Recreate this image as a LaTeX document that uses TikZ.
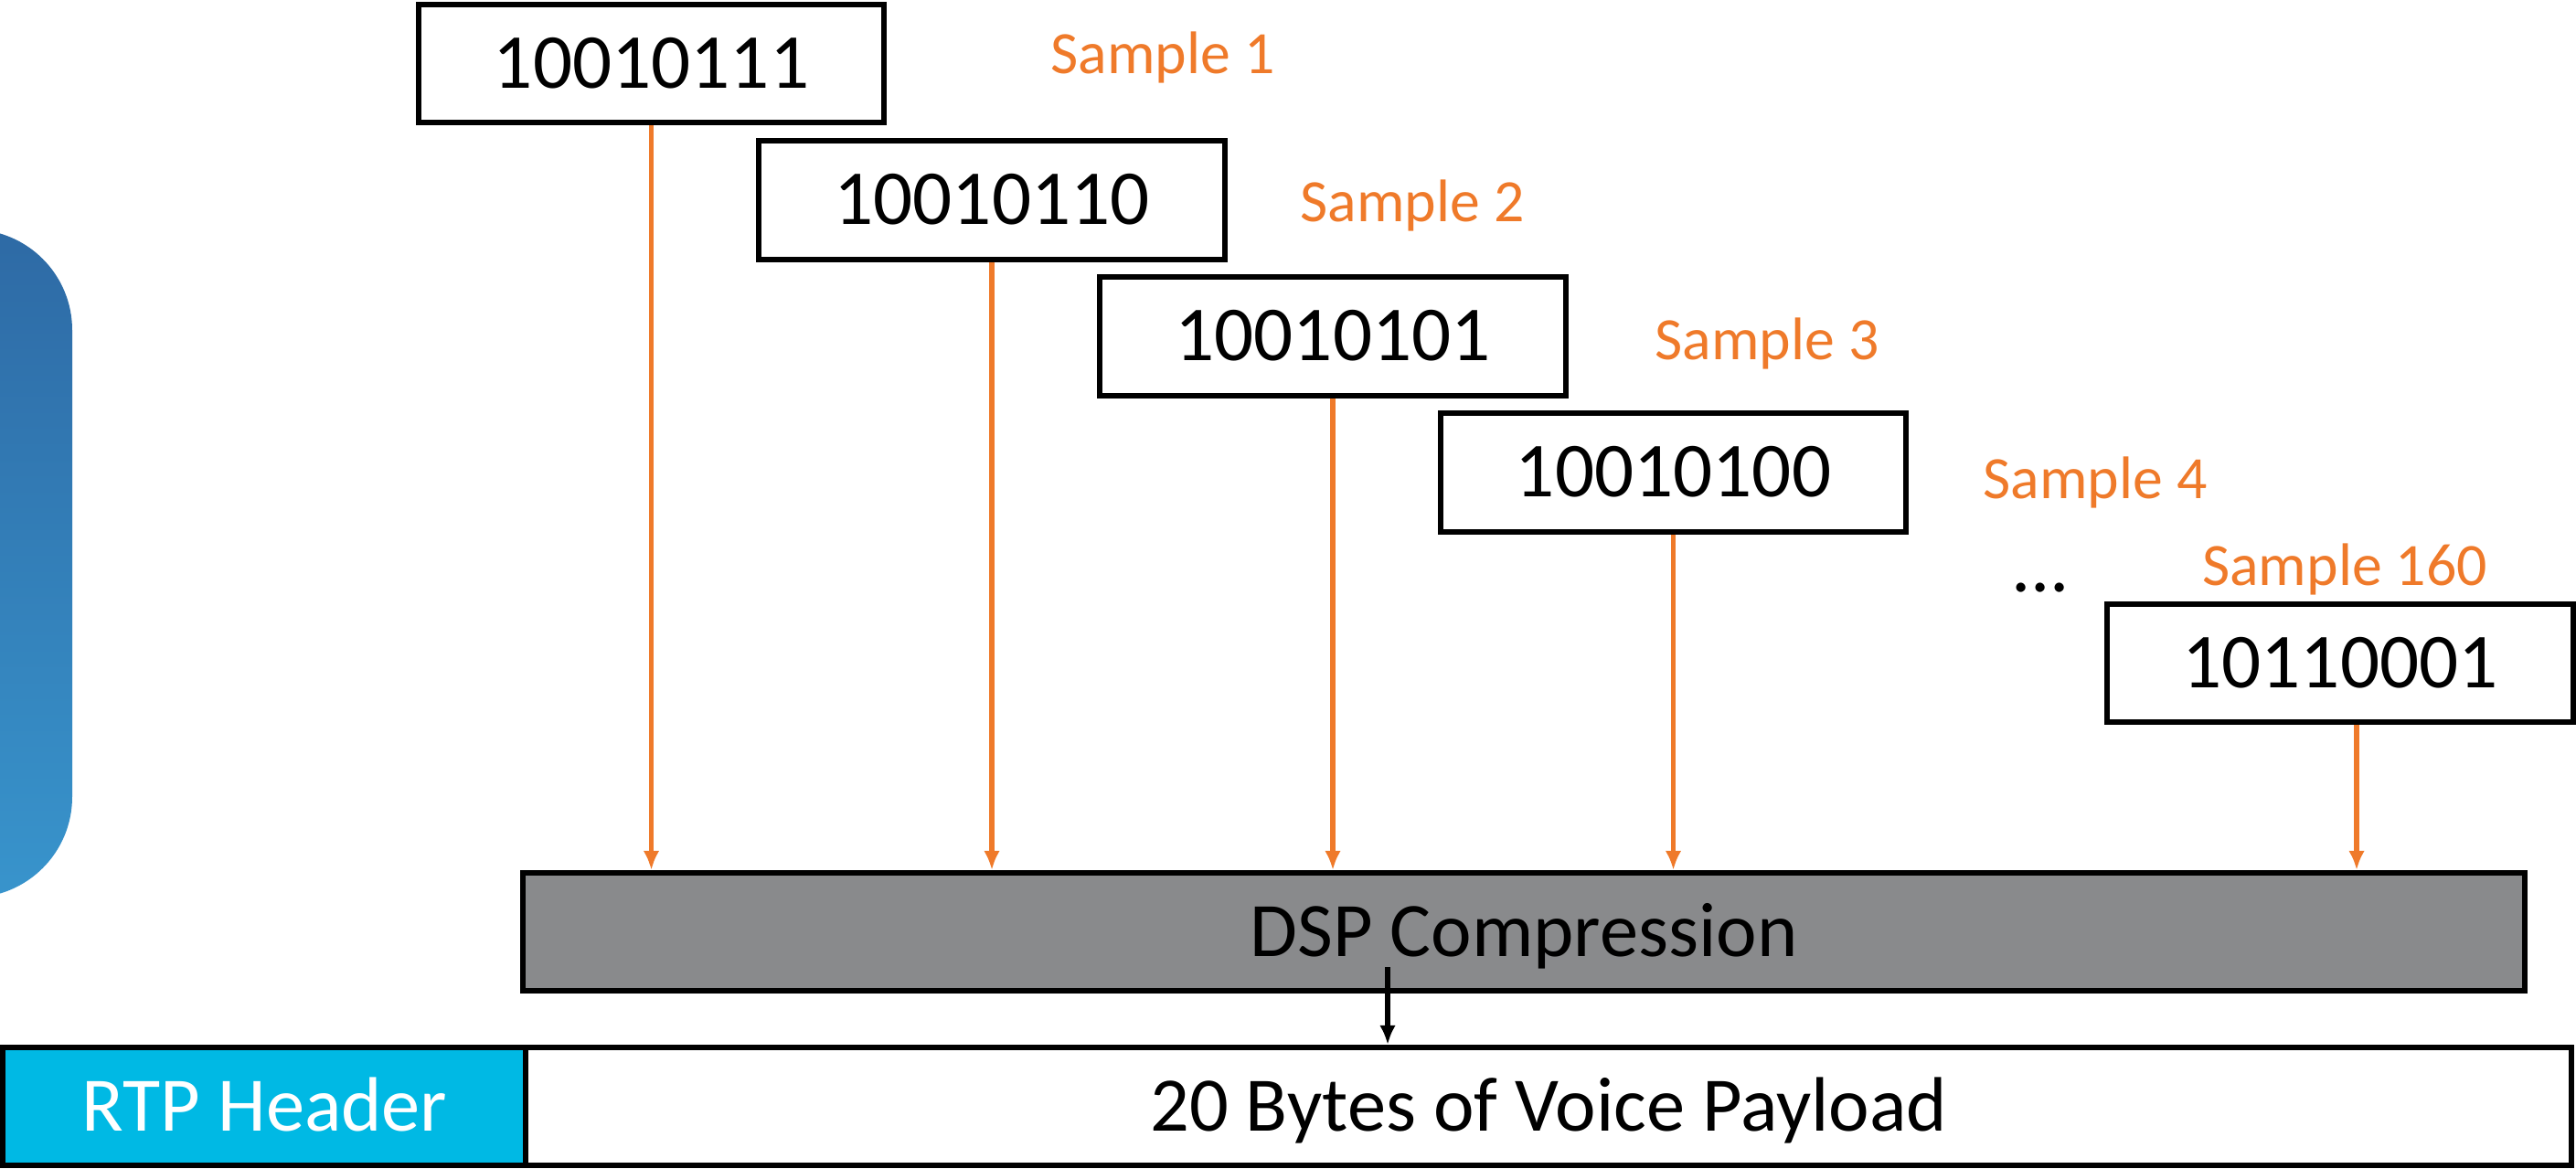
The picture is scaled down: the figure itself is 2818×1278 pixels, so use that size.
\documentclass[tikz,border=0pt]{standalone}
\usepackage{fontspec}
\setmainfont{Carlito}
\usetikzlibrary{arrows.meta}

\definecolor{sampleorange}{HTML}{EF7A2A}
\definecolor{dspgray}{HTML}{898A8C}
\definecolor{rtpcyan}{HTML}{00B9E4}
\definecolor{panetop}{RGB}{46,106,165}
\definecolor{panebottom}{RGB}{56,148,204}

\tikzset{
  bitbox/.style={draw, line width=1.7pt, fill=white, inner sep=0pt,
    minimum width=5.09cm, minimum height=1.29cm,
    font=\fontsize{24.2}{28}\selectfont, text height=15.3pt, text depth=0pt},
  samplelbl/.style={anchor=base, inner sep=0pt, text=sampleorange,
    font=\fontsize{18.7}{22}\selectfont},
  feed/.style={draw=sampleorange, line width=1.55pt,
    -{Latex[length=6pt,width=5pt]}},
  outarrow/.style={draw=black, line width=1.5pt,
    -{Latex[length=6pt,width=5pt]}},
  dspbox/.style={draw, line width=1.7pt, fill=dspgray, inner sep=0pt,
    minimum width=21.88cm, minimum height=1.29cm,
    font=\fontsize{24}{28}\selectfont, text height=15.5pt, text depth=0pt},
  field/.style={draw, line width=1.7pt, inner sep=0pt,
    minimum height=1.29cm,
    font=\fontsize{24}{28}\selectfont, text height=15.5pt, text depth=0pt}
}

\begin{document}
\begin{tikzpicture}[x=0.01cm, y=-0.01cm]
\useasboundingbox (0,0) rectangle (2818,1278);

% partly visible rounded panel at the left edge
\begin{scope}
  \clip (0,0) rectangle (2818,1278);
  \shade[top color=panetop, bottom color=panebottom, rounded corners=1.1cm]
    (-200,251) rectangle (79,982);
\end{scope}

% the sampled bytes
\node[bitbox] (b1)   at (712.5,69.5) {10010111};
\node[bitbox] (b2)   at (1085,219)   {10010110};
\node[bitbox] (b3)   at (1458,368)   {10010101};
\node[bitbox] (b4)   at (1830.5,517) {10010100};
\node[bitbox] (b160) at (2560,725.5) {10110001};

% their labels
\node[samplelbl] (l1)   at (1272,80)  {Sample 1};
\node[samplelbl] (l2)   at (1545,242) {Sample 2};
\node[samplelbl] (l3)   at (1933,393) {Sample 3};
\node[samplelbl] (l4)   at (2292,545) {Sample 4};
\node[samplelbl] (l160) at (2565,640) {Sample 160};
\node[anchor=base, inner sep=0pt, font=\fontsize{24}{28}\selectfont]
  (dots) at (2232,647) {...};

% compression stage
\node[dspbox] (dsp) at (1667,1019.5) {DSP Compression};

% resulting packet
\node[field, fill=rtpcyan, text=white, minimum width=5.73cm]
  (rtp) at (289.5,1210.5) {RTP Header};
\node[field, fill=white, minimum width=22.36cm]
  (payload) at (1694,1210.5) {20 Bytes of Voice Payload};

% samples feeding the DSP
\draw[feed] (b1.south) -- (b1.south |- dsp.north);
\draw[feed] (b2.south) -- (b2.south |- dsp.north);
\draw[feed] (b3.south) -- (b3.south |- dsp.north);
\draw[feed] (b4.south) -- (b4.south |- dsp.north);
\coordinate (t160) at ([xshift=0.18cm]b160.south);
\draw[feed] (t160) -- (t160 |- dsp.north);

% DSP output into the payload
\coordinate (dout) at (1518,1058);
\draw[outarrow] (dout) -- (dout |- payload.north);
\end{tikzpicture}
\end{document}
